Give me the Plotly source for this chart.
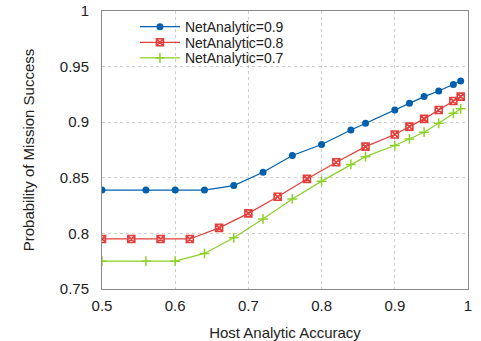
import plotly.graph_objects as go

x_09 = [0.5, 0.56, 0.6, 0.64, 0.68, 0.72, 0.76, 0.8, 0.84, 0.86, 0.9, 0.92, 0.94, 0.96, 0.98, 0.99]
y_09 = [0.839, 0.839, 0.839, 0.839, 0.843, 0.855, 0.870, 0.880, 0.893, 0.899, 0.911, 0.917, 0.923, 0.928, 0.934, 0.937]

x_08 = [0.5, 0.54, 0.58, 0.62, 0.66, 0.7, 0.74, 0.78, 0.82, 0.86, 0.9, 0.92, 0.94, 0.96, 0.98, 0.99]
y_08 = [0.795, 0.795, 0.795, 0.795, 0.805, 0.818, 0.833, 0.849, 0.864, 0.878, 0.889, 0.896, 0.903, 0.911, 0.919, 0.923]

x_07 = [0.5, 0.56, 0.6, 0.64, 0.68, 0.72, 0.76, 0.8, 0.84, 0.86, 0.9, 0.92, 0.94, 0.96, 0.98, 0.99]
y_07 = [0.775, 0.775, 0.775, 0.782, 0.796, 0.813, 0.831, 0.847, 0.862, 0.869, 0.879, 0.885, 0.891, 0.899, 0.908, 0.912]

names = ["NetAnalytic=0.9", "NetAnalytic=0.8", "NetAnalytic=0.7"]
colors = ["#0060ad", "#e2403c", "#8cd128"]

fig = go.Figure()
fig.add_trace(go.Scatter(x=x_09, y=y_09, name=names[0], mode="lines+markers", legend="legend",
                         line=dict(color=colors[0], width=1.2),
                         marker=dict(symbol="circle", size=7, color=colors[0])))
fig.add_trace(go.Scatter(x=x_08, y=y_08, name=names[1], mode="lines+markers", legend="legend2",
                         line=dict(color=colors[1], width=1.2),
                         marker=dict(symbol="square-x-open", size=7, color=colors[1],
                                     line=dict(color=colors[1], width=1.6))))
fig.add_trace(go.Scatter(x=x_07, y=y_07, name=names[2], mode="lines+markers", legend="legend3",
                         line=dict(color=colors[2], width=1.2),
                         marker=dict(symbol="cross-thin-open", size=7, color=colors[2],
                                     line=dict(color=colors[2], width=1.5))))

axis_common = dict(showline=True, mirror=True, linecolor="#8a8a8a", linewidth=1,
                   showgrid=True, gridcolor="#cfcfcf", griddash="dot", gridwidth=1,
                   zeroline=False, ticks="", automargin=False,
                   tickfont=dict(size=15, color="#222"), title_font=dict(size=15, color="#222"))

leg = dict(x=0.09, xanchor="left", yanchor="middle", bgcolor="rgba(0,0,0,0)",
           font=dict(size=14), itemwidth=40)

fig.update_layout(
    width=481, height=341,
    margin=dict(l=102, r=13, t=11, b=52),
    paper_bgcolor="white", plot_bgcolor="white",
    font=dict(family="Liberation Sans, Arial, sans-serif", size=15, color="#222"),
    xaxis=dict(range=[0.5, 1.0], dtick=0.1, tick0=0.5, ticklabelstandoff=3,
               title=dict(text="Host Analytic Accuracy", standoff=15), **axis_common),
    yaxis=dict(range=[0.75, 1.0], dtick=0.05, tick0=0.75, ticklabelstandoff=9,
               title=dict(text="Probability of Mission Success", standoff=21), **axis_common),
    legend=dict(y=0.942, **leg),
    legend2=dict(y=0.886, **leg),
    legend3=dict(y=0.830, **leg),
    showlegend=True,
)

fig.write_html("out.html")
